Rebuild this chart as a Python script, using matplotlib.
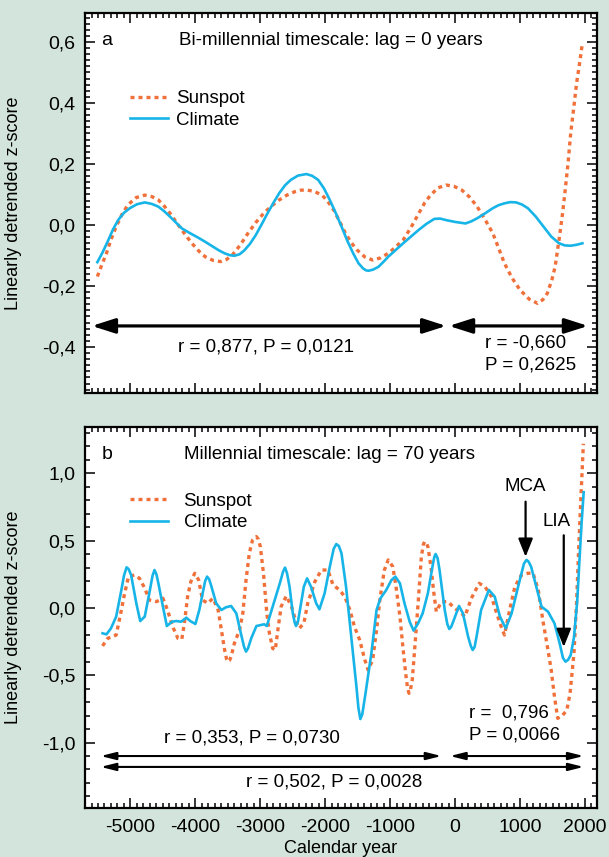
import matplotlib
matplotlib.use('Agg')
import matplotlib.pyplot as plt
from matplotlib.ticker import MultipleLocator, FuncFormatter

plt.rcParams['font.family'] = ['Liberation Sans', 'DejaVu Sans']

BG = '#d3e4dc'
SUN = '#f0703a'
CLIM = '#17b4e8'

# panel a: bi-millennial, lag 0
years_a_clim = [-5510, -5430, -5340, -5270, -5190, -5100, -5010, -4900, -4780, -4670,
                -4570, -4480, -4390, -4300, -4210, -4090, -3970, -3850, -3730, -3640,
                -3550, -3470, -3400, -3320, -3250, -3160, -3070, -2980, -2890, -2800,
                -2710, -2620, -2530, -2420, -2290, -2200, -2110, -2020, -1930, -1840,
                -1750, -1660, -1570, -1490, -1420, -1370, -1330, -1260, -1180, -1100,
                -1030, -920, -800, -680, -560, -440, -320, -230, -140, 0,
                160, 250, 340, 460, 580, 670, 760, 850, 940, 1030,
                1120, 1240, 1360, 1480, 1600, 1690, 1780, 1870, 1960]
clim_a = [-0.122, -0.090, -0.049, -0.015, 0.016, 0.040, 0.055, 0.068, 0.074, 0.069,
          0.060, 0.045, 0.027, 0.008, -0.011, -0.026, -0.040, -0.055, -0.071, -0.083,
          -0.093, -0.099, -0.101, -0.096, -0.084, -0.062, -0.033, 0.002, 0.038, 0.072,
          0.104, 0.130, 0.148, 0.162, 0.167, 0.161, 0.148, 0.120, 0.082, 0.040,
          -0.005, -0.052, -0.093, -0.125, -0.142, -0.149, -0.150, -0.146, -0.137, -0.120,
          -0.104, -0.083, -0.060, -0.038, -0.016, 0.004, 0.020, 0.021, 0.016, 0.010,
          0.005, 0.012, 0.022, 0.038, 0.055, 0.065, 0.071, 0.075, 0.074, 0.067,
          0.055, 0.028, -0.005, -0.038, -0.060, -0.067, -0.068, -0.065, -0.060]

years_a_sun = [-5510, -5440, -5370, -5300, -5220, -5130, -5040, -4910, -4780, -4670,
               -4570, -4480, -4390, -4300, -4210, -4120, -4030, -3940, -3850, -3730,
               -3610, -3520, -3430, -3310, -3190, -3070, -2950, -2830, -2710, -2590,
               -2470, -2380, -2290, -2170, -2050, -1960, -1870, -1780, -1690, -1600,
               -1510, -1390, -1270, -1150, -1030, -920, -800, -680, -560, -470,
               -380, -260, -140, -20, 100, 220, 340, 460, 580, 670,
               760, 880, 1000, 1140, 1270, 1350, 1420, 1490, 1540, 1600,
               1650, 1690, 1740, 1780, 1830, 1870, 1920, 1960]
sun_a = [-0.169, -0.130, -0.093, -0.048, -0.005, 0.035, 0.066, 0.090, 0.098, 0.093,
         0.082, 0.062, 0.038, 0.011, -0.016, -0.042, -0.066, -0.087, -0.104, -0.116,
         -0.120, -0.113, -0.098, -0.066, -0.027, 0.008, 0.038, 0.062, 0.082, 0.098,
         0.109, 0.114, 0.115, 0.110, 0.098, 0.077, 0.049, 0.012, -0.027, -0.058,
         -0.082, -0.105, -0.115, -0.108, -0.093, -0.073, -0.049, -0.008, 0.038, 0.072,
         0.098, 0.122, 0.131, 0.127, 0.115, 0.092, 0.060, 0.018, -0.027, -0.076,
         -0.126, -0.175, -0.213, -0.243, -0.257, -0.245, -0.224, -0.180, -0.137, -0.049,
         0.030, 0.104, 0.205, 0.301, 0.390, 0.464, 0.535, 0.596]

# panel b: millennial, lag 70
years_b_clim = [-5430, -5370, -5300, -5220, -5140, -5100, -5060, -5030, -4990, -4910,
                -4850, -4780, -4710, -4660, -4630, -4600, -4570, -4500, -4440, -4360,
                -4290, -4220, -4140, -4080, -4000, -3940, -3850, -3820, -3790, -3760,
                -3680, -3600, -3530, -3450, -3370, -3300, -3250, -3220, -3190, -3140,
                -3060, -2940, -2900, -2810, -2700, -2650, -2620, -2590, -2550, -2500,
                -2470, -2450, -2420, -2390, -2330, -2280, -2220, -2140, -2090, -2010,
                -1930, -1870, -1830, -1790, -1750, -1680, -1600, -1520, -1490, -1460,
                -1430, -1380, -1290, -1210, -1150, -1060, -980, -920, -850, -780,
                -700, -640, -570, -500, -420, -340, -320, -300, -270, -240,
                -160, -120, -90, -60, -20, 60, 120, 200, 240, 270,
                300, 330, 400, 520, 610, 690, 780, 870, 970, 1060,
                1100, 1130, 1170, 1250, 1330, 1430, 1530, 1610, 1660, 1700,
                1740, 1780, 1830, 1880, 1920, 1950, 1980]
clim_b = [-0.188, -0.196, -0.151, -0.064, 0.134, 0.240, 0.302, 0.290, 0.245, 0.035,
          -0.097, -0.064, 0.109, 0.240, 0.282, 0.250, 0.183, 0.010, -0.134, -0.102,
          -0.097, -0.102, -0.072, -0.097, -0.119, -0.015, 0.200, 0.233, 0.215, 0.171,
          0.035, -0.015, 0.005, 0.015, -0.040, -0.188, -0.290, -0.324, -0.300, -0.225,
          -0.134, -0.121, -0.134, 0.010, 0.183, 0.270, 0.300, 0.260, 0.158, -0.040,
          -0.110, -0.134, -0.100, -0.015, 0.158, 0.220, 0.158, 0.035, -0.010, 0.109,
          0.307, 0.440, 0.475, 0.460, 0.406, 0.158, -0.213, -0.584, -0.740, -0.825,
          -0.790, -0.634, -0.337, -0.015, 0.072, 0.134, 0.208, 0.233, 0.183, 0.035,
          -0.102, -0.168, -0.114, -0.040, 0.109, 0.332, 0.380, 0.401, 0.370, 0.282,
          -0.015, -0.120, -0.156, -0.140, -0.089, 0.015, -0.040, -0.213, -0.280, -0.312,
          -0.290, -0.213, -0.015, 0.134, 0.084, -0.064, -0.151, -0.040, 0.158, 0.330,
          0.357, 0.345, 0.307, 0.158, 0.010, -0.027, -0.114, -0.263, -0.370, -0.399,
          -0.385, -0.350, -0.220, 0.050, 0.400, 0.650, 0.860]

years_b_sun = [-5430, -5350, -5270, -5220, -5160, -5090, -5030, -4940, -4860, -4780,
               -4710, -4600, -4500, -4430, -4350, -4270, -4210, -4170, -4120, -4070,
               -4010, -3950, -3890, -3810, -3730, -3650, -3600, -3550, -3520, -3500,
               -3475, -3450, -3400, -3320, -3270, -3220, -3170, -3120, -3090, -3060,
               -3030, -3000, -2950, -2900, -2860, -2810, -2770, -2730, -2680, -2600,
               -2520, -2460, -2400, -2330, -2270, -2160, -2060, -1960, -1880, -1780,
               -1700, -1620, -1550, -1470, -1390, -1340, -1270, -1210, -1160, -1090,
               -1030, -960, -910, -850, -800, -750, -730, -710, -690, -660,
               -620, -570, -520, -490, -470, -445, -420, -370, -330, -290,
               -210, -110, -10, 70, 150, 250, 370, 460, 560, 640,
               710, 760, 840, 920, 1020, 1120, 1200, 1280, 1350, 1430,
               1480, 1530, 1580, 1650, 1720, 1770, 1830, 1870, 1900, 1940,
               1975]
sun_b = [-0.282, -0.225, -0.213, -0.201, -0.064, 0.109, 0.233, 0.245, 0.220, 0.146,
         0.059, 0.047, 0.072, -0.015, -0.139, -0.225, -0.233, -0.114, 0.084, 0.196,
         0.258, 0.208, 0.059, 0.035, 0.072, -0.015, -0.163, -0.312, -0.380, -0.399,
         -0.390, -0.362, -0.263, -0.163, -0.040, 0.208, 0.406, 0.505, 0.520, 0.530,
         0.510, 0.456, 0.250, -0.040, -0.188, -0.300, -0.312, -0.163, 0.010, 0.089,
         0.010, -0.089, -0.151, -0.114, 0.035, 0.196, 0.282, 0.282, 0.171, 0.134,
         0.084, -0.015, -0.139, -0.238, -0.386, -0.461, -0.386, -0.163, 0.059, 0.282,
         0.357, 0.307, 0.158, -0.064, -0.312, -0.535, -0.600, -0.634, -0.610, -0.535,
         -0.287, 0.035, 0.381, 0.470, 0.493, 0.485, 0.456, 0.300, 0.120, -0.027,
         0.047, 0.047, -0.002, -0.027, -0.064, 0.072, 0.183, 0.158, 0.084, -0.040,
         -0.139, -0.201, -0.015, 0.158, 0.245, 0.258, 0.258, 0.134, -0.089, -0.312,
         -0.461, -0.659, -0.820, -0.800, -0.760, -0.634, -0.337, 0.035, 0.406, 0.850,
         1.220]

yticks_a = [-0.4, -0.2, 0.0, 0.2, 0.4, 0.6]
yticks_b = [-1.0, -0.5, 0.0, 0.5, 1.0]
xticks = [-5000, -4000, -3000, -2000, -1000, 0, 1000, 2000]


def comma(v, pos):
    return f'{v:.1f}'.replace('.', ',').replace('-0,0', '0,0')


def style_axes(ax, yticks, ymin, ymax, yminor):
    ax.set_xlim(-5700, 2185)
    ax.set_ylim(ymin, ymax)
    ax.set_xticks(xticks)
    ax.xaxis.set_minor_locator(MultipleLocator(100))
    ax.set_yticks(yticks)
    ax.yaxis.set_minor_locator(MultipleLocator(yminor))
    ax.yaxis.set_major_formatter(FuncFormatter(comma))
    ax.tick_params(which='both', direction='in', top=True, right=True, width=1.1,
                   labelsize=14)
    ax.tick_params(axis='y', pad=7)
    ax.tick_params(axis='x', pad=8)
    ax.tick_params(which='major', length=7)
    ax.tick_params(which='minor', length=3.5)
    for s in ax.spines.values():
        s.set_linewidth(1.6)
    ax.set_ylabel('Linearly detrended z-score', fontsize=13)
    ax.yaxis.set_label_coords(-0.123, 0.5)


def double_arrow(ax, x0, x1, y, lw, hl, hw, ms):
    ax.annotate('', xy=(x1, y), xytext=(x0, y),
                arrowprops=dict(arrowstyle=f'<|-|>,head_length={hl},head_width={hw}',
                                lw=lw, color='black', mutation_scale=ms,
                                shrinkA=0, shrinkB=0))


fig = plt.figure(figsize=(6.09, 8.57), dpi=100, facecolor=BG)

# ---- panel a ----
ax1 = fig.add_axes([0.1396, 0.5414, 0.8407, 0.4434])
ax1.plot(years_a_sun, sun_a, color=SUN, lw=2.4, linestyle=(0, (1.2, 1.2)), label='Sunspot')
ax1.plot(years_a_clim, clim_a, color=CLIM, lw=1.9, label='Climate')
style_axes(ax1, yticks_a, -0.551, 0.695, 0.02)
ax1.tick_params(axis='x', labelbottom=False)
ax1.text(0.043, 0.929, 'a', transform=ax1.transAxes, fontsize=14, ha='center', va='center')
ax1.text(0.480, 0.929, 'Bi-millennial timescale: lag = 0 years', transform=ax1.transAxes,
         fontsize=13.5, ha='center', va='center')
ax1.legend(loc='upper left', bbox_to_anchor=(0.088, 0.797), frameon=False, fontsize=13.5,
           handlelength=2.0, handletextpad=0.45, labelspacing=0.22,
           borderpad=0, borderaxespad=0)
double_arrow(ax1, -5595, -137, -0.331, 2.3, 1.0, 0.32, 14)
double_arrow(ax1, -95, 2047, -0.331, 2.3, 1.0, 0.32, 14)
ax1.text(-2920, -0.40, 'r = 0,877, P = 0,0121', fontsize=13.5, ha='center', va='center')
ax1.text(455, -0.387, 'r = -0,660', fontsize=13.5, ha='left', va='center')
ax1.text(455, -0.459, 'P = 0,2625', fontsize=13.5, ha='left', va='center')

# ---- panel b ----
ax2 = fig.add_axes([0.1396, 0.0572, 0.8407, 0.4446])
ax2.plot(years_b_sun, sun_b, color=SUN, lw=2.4, linestyle=(0, (1.2, 1.2)), label='Sunspot')
ax2.plot(years_b_clim, clim_b, color=CLIM, lw=1.9, label='Climate')
style_axes(ax2, yticks_b, -1.486, 1.345, 0.1)
ax2.set_xticklabels([str(x) for x in xticks])
ax2.set_xlabel('Calendar year', fontsize=13, labelpad=3)
ax2.text(0.043, 0.927, 'b', transform=ax2.transAxes, fontsize=14, ha='center', va='center')
ax2.text(0.477, 0.927, 'Millennial timescale: lag = 70 years', transform=ax2.transAxes,
         fontsize=13.5, ha='center', va='center')
ax2.legend(loc='upper left', bbox_to_anchor=(0.088, 0.828), frameon=False, fontsize=13.5,
           handlelength=2.0, handletextpad=0.85, labelspacing=0.25,
           borderpad=0, borderaxespad=0)

ax2.text(1080, 0.90, 'MCA', fontsize=13.5, ha='center', va='center')
ax2.annotate('', xy=(1085, 0.38), xytext=(1085, 0.79),
             arrowprops=dict(arrowstyle='-|>,head_length=1.0,head_width=0.4', lw=1.6,
                             color='black', mutation_scale=11, shrinkA=0, shrinkB=0))
ax2.text(1560, 0.64, 'LIA', fontsize=13.5, ha='center', va='center')
ax2.annotate('', xy=(1673, -0.29), xytext=(1673, 0.54),
             arrowprops=dict(arrowstyle='-|>,head_length=1.0,head_width=0.4', lw=1.6,
                             color='black', mutation_scale=11, shrinkA=0, shrinkB=0))

ax2.text(209, -0.78, 'r =  0,796', fontsize=13.5, ha='left', va='center')
ax2.text(209, -0.944, 'P = 0,0066', fontsize=13.5, ha='left', va='center')
ax2.text(-3135, -0.966, 'r = 0,353, P = 0,0730', fontsize=13.5, ha='center', va='center')
ax2.text(-1856, -1.293, 'r = 0,502, P = 0,0028', fontsize=13.5, ha='center', va='center')
double_arrow(ax2, -5460, -210, -1.10, 1.5, 1.0, 0.25, 9)
double_arrow(ax2, -80, 1980, -1.10, 1.5, 1.0, 0.25, 9)
double_arrow(ax2, -5460, 1980, -1.181, 1.5, 1.0, 0.25, 9)

fig.savefig('out.png', dpi=100, facecolor=BG)
